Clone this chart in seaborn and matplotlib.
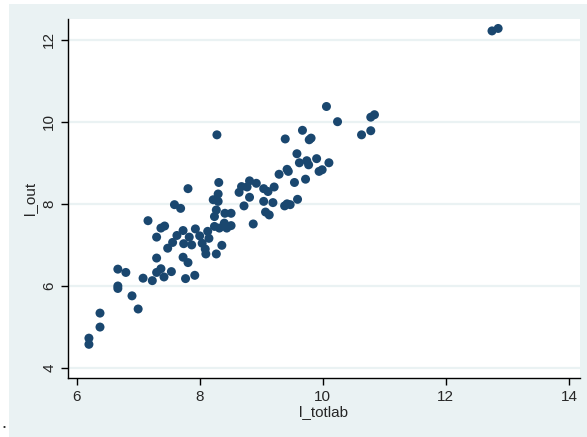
import matplotlib
matplotlib.use("Agg")
import matplotlib.pyplot as plt
import seaborn as sns
import pandas as pd

l_totlab = [12.75,12.85,10.06,10.24,10.63,10.78,10.78,10.84,8.28,9.39,9.67,9.78,9.81,9.58,9.62,9.74,9.77,9.90,10.10,9.94,9.99,
            9.42,9.44,9.29,9.54,9.72,9.59,9.42,9.47,9.38,9.19,9.04,9.07,9.13,9.11,9.21,9.04,8.92,8.81,8.77,8.68,8.64,8.81,8.72,8.87,
            8.31,8.30,8.22,8.30,8.27,8.24,8.41,8.51,8.24,8.32,8.40,8.44,8.51,8.36,8.27,7.81,7.59,7.69,7.16,7.37,7.43,7.30,7.56,7.48,
            7.63,7.73,7.74,7.83,7.87,7.93,8.00,8.04,8.09,8.10,8.13,8.15,7.73,7.81,7.30,7.37,7.30,7.42,7.54,7.77,7.92,7.23,7.08,
            6.67,6.80,6.67,6.67,6.90,7.00,6.38,6.38,6.20,6.20]
l_out = [12.21,12.27,10.37,10.00,9.68,9.78,10.11,10.17,9.68,9.58,9.79,9.56,9.60,9.22,9.00,9.05,8.95,9.10,9.00,8.79,8.83,
         8.84,8.79,8.72,8.52,8.60,8.11,8.00,7.98,7.95,8.03,8.06,7.80,7.73,8.30,8.41,8.37,8.50,8.56,8.41,8.42,8.28,8.16,7.95,7.51,
         8.52,8.24,8.10,8.06,7.85,7.69,7.77,7.77,7.45,7.41,7.53,7.41,7.47,6.99,6.78,8.37,7.98,7.89,7.59,7.41,7.46,7.19,7.06,6.92,
         7.23,7.35,7.03,7.19,7.00,7.39,7.22,7.04,6.90,6.78,7.33,7.16,6.70,6.57,6.68,6.42,6.33,6.22,6.35,6.18,6.26,6.13,6.19,
         6.41,6.33,6.00,5.94,5.76,5.44,5.34,5.00,4.73,4.58]
x_ticks = [6, 8, 10, 12, 14]
y_ticks = [4, 6, 8, 10, 12]

df = pd.DataFrame({"l_totlab": l_totlab, "l_out": l_out})

sns.set_style("white")
plt.rcParams['font.family'] = ['Liberation Sans', 'DejaVu Sans']
fig = plt.figure(figsize=(5.87, 4.37), dpi=100, facecolor="#EAF2F3")
fig.patches.append(plt.Rectangle((0, 0), 9/587, 1, transform=fig.transFigure,
                                 facecolor="white", edgecolor="none"))
fig.patches.append(plt.Rectangle((0, 1 - 4/437), 1, 4/437, transform=fig.transFigure,
                                 facecolor="white", edgecolor="none"))
ax = fig.add_axes([68/587, 59/437, 512/587, 359/437])
ax.set_facecolor("white")
for v in y_ticks:
    ax.axhline(v, color="#EAF2F3", lw=1.6, zorder=0)
sns.scatterplot(data=df, x="l_totlab", y="l_out", ax=ax, color="#1a476f",
                s=42, edgecolor="none", linewidth=0, zorder=3)
ax.set_xlim(5.86, 14.18)
ax.set_ylim(3.76, 12.5)
ax.set_xticks(x_ticks)
ax.set_yticks(y_ticks)
ax.set_xticklabels([str(t) for t in x_ticks], fontsize=11)
ax.set_yticklabels([str(t) for t in y_ticks], fontsize=11, rotation=90, va="center")
ax.tick_params(axis="both", direction="out", length=5, width=1, color="black", bottom=True, left=True)
ax.set_xlabel("l_totlab", fontsize=11, labelpad=1)
ax.set_ylabel("l_out", fontsize=11, labelpad=4)
for s in ["top", "right"]:
    ax.spines[s].set_visible(False)
for s in ["left", "bottom"]:
    ax.spines[s].set_color("black")
    ax.spines[s].set_linewidth(1)
fig.text(3/587, 1 - 427/437, "•", fontsize=6, va="center")
fig.savefig("out.png", dpi=100, facecolor=fig.get_facecolor())
